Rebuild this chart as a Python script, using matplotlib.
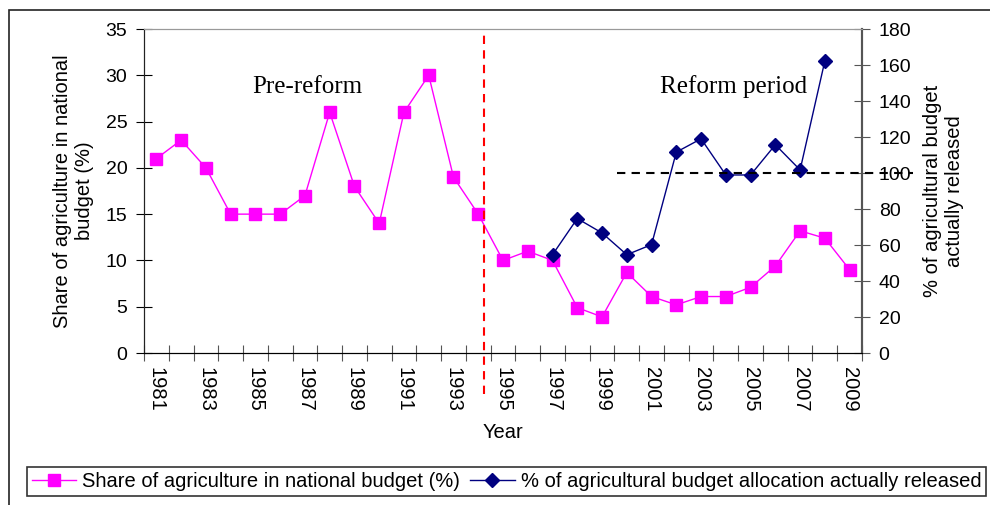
import matplotlib
matplotlib.use('Agg')
from matplotlib import pyplot as plt
from matplotlib.patches import Rectangle

plt.rcParams['font.family'] = ['Liberation Sans', 'DejaVu Sans']

years = list(range(1981, 2010))
share = [21, 23, 20, 15, 15, 15, 17, 26, 18, 14, 26, 30, 19, 15,
         10, 11, 10, 4.9, 3.9, 8.7, 6.1, 5.2, 6.1, 6.1, 7.1, 9.4, 13.2, 12.4, 9.0]
rel_years = list(range(1997, 2009))
released = [54.6, 74.7, 66.7, 54.6, 60.2, 111.6, 119, 98.9, 98.9, 115.7, 101.7, 162.3]
tick_labels = [str(y) for y in years if y % 2 == 1]

reform_year = 1994.25
ref_start, ref_end, ref_level = 1999.6, 2011.55, 100

fig = plt.figure(figsize=(9.9, 5.05), dpi=100)
fig.patches.append(Rectangle((9/990, -0.1), 1.2, 1 - 10/505 + 0.1, transform=fig.transFigure,
                             fill=False, edgecolor='#222222', lw=1.2))
ax = fig.add_axes([144/990, 1 - 353/505, (862 - 144)/990, (353 - 29)/505])
ax2 = ax.twinx()

ax.plot(years, share, color='magenta', marker='s', ms=8, lw=1,
        label='Share of agriculture in national budget (%)')
ax2.plot(rel_years, released, color='#000080', marker='D', ms=7, lw=1,
         label='% of agricultural budget allocation actually released')

ax.set_xlim(1980.5, 2009.5)
ax.set_ylim(0, 35)
ax.set_yticks(range(0, 36, 5))
ax2.set_ylim(0, 180)
ax2.set_yticks(range(0, 181, 20))

ax.set_xticks([y + 0.5 for y in range(1980, 2010)])
ax.set_xticklabels([])
ax.set_xticks([y for y in years if y % 2 == 1], minor=True)
ax.set_xticklabels(tick_labels, minor=True, rotation=-90, fontsize=14.5)
ax.tick_params(axis='x', which='minor', length=0, pad=10)
ax.tick_params(axis='x', which='major', direction='inout', length=12, color='#555555')
ax.tick_params(axis='y', direction='inout', length=12, labelsize=14, pad=6)
ax2.tick_params(axis='y', direction='inout', length=12, labelsize=14, pad=6, color='#555555')

for a in (ax, ax2):
    a.spines['top'].set_color('#999999')
    a.spines['right'].set_color('#555555')
    a.spines['left'].set_color('#222222')
    a.spines['bottom'].set_color('black')
    a.spines['right'].set_linewidth(1.5)

ax.set_ylabel('Share of agriculture in national\nbudget (%)', fontsize=14.5, labelpad=8)
ax2.set_ylabel('% of agricultural budget\nactually released', fontsize=14.5,
               rotation=90, labelpad=8)
ax.set_xlabel('Year', fontsize=14.5, labelpad=8)

ax.axvline(reform_year, ymin=-0.125, ymax=1, color='red', ls=(0, (4, 3)), lw=1.5, clip_on=False)
ax2.plot([ref_start, ref_end], [ref_level, ref_level], color='black', ls=(0, (4, 3)),
         lw=1.5, clip_on=False)

ax.text(1987.1, 28.7, 'Pre-reform', family='Liberation Serif', fontsize=18, ha='center', va='center')
ax.text(2004.3, 28.8, 'Reform period', family='Liberation Serif', fontsize=18, ha='center', va='center')

h1, l1 = ax.get_legend_handles_labels()
h2, l2 = ax2.get_legend_handles_labels()
leg = fig.legend(h1 + h2, l1 + l2, loc='lower left', bbox_to_anchor=(27/990, 9/505),
                 ncol=2, fontsize=14.5, frameon=True, fancybox=False, edgecolor='black',
                 borderpad=0.25, columnspacing=0.5, handlelength=2.2, handletextpad=0.3,
                 borderaxespad=0)
leg.get_frame().set_linewidth(1.2)

fig.savefig('out.png', dpi=100)
